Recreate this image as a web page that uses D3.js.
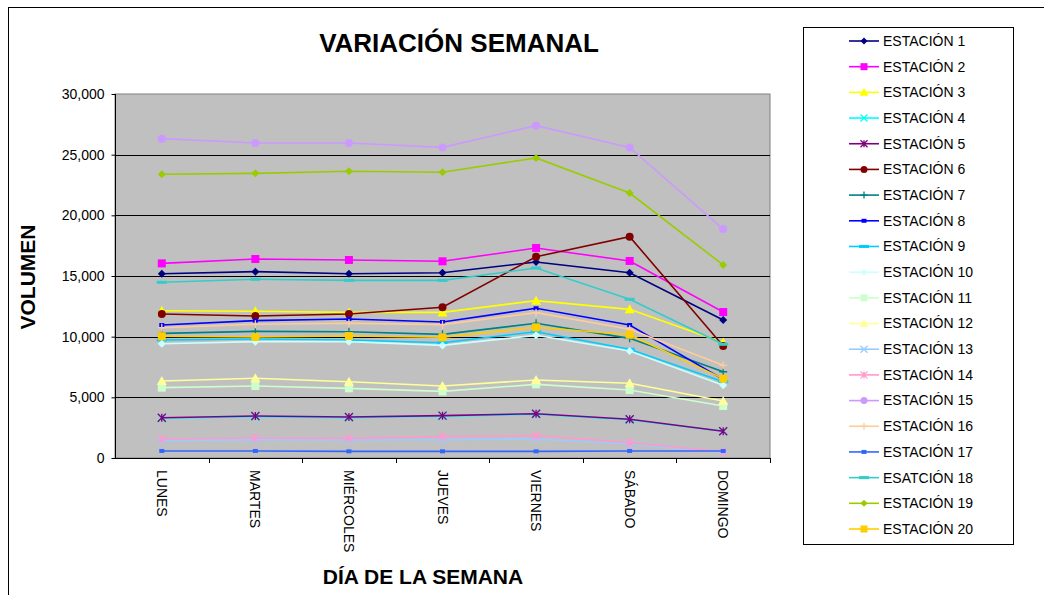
<!doctype html>
<html lang="es">
<head>
<meta charset="utf-8">
<title>Variación semanal</title>
<script src="https://cdn.jsdelivr.net/npm/d3@7"></script>
<style>
  body { margin: 0; background: #fff; }
  svg { display: block; font-family: "Liberation Sans", Arial, sans-serif; }
</style>
</head>
<body>
<script>
// days of the week (x categories)
const days = ["LUNES", "MARTES", "MIÉRCOLES", "JUEVES", "VIERNES", "SÁBADO", "DOMINGO"];

const seriesNames = ["ESTACIÓN 1", "ESTACIÓN 2", "ESTACIÓN 3", "ESTACIÓN 4", "ESTACIÓN 5",
  "ESTACIÓN 6", "ESTACIÓN 7", "ESTACIÓN 8", "ESTACIÓN 9", "ESTACIÓN 10",
  "ESTACIÓN 11", "ESTACIÓN 12", "ESTACIÓN 13", "ESTACIÓN 14", "ESTACIÓN 15",
  "ESTACIÓN 16", "ESTACIÓN 17", "ESATCIÓN 18", "ESTACIÓN 19", "ESTACIÓN 20"];

const est1  = [15190, 15360, 15190, 15270, 16150, 15270, 11370];
const est2  = [16040, 16400, 16320, 16210, 17310, 16240, 12030];
const est3  = [12140, 12090, 12000, 12000, 12970, 12250, 9510];
const est4  = [3270, 3400, 3330, 3440, 3600, 3150, 2200];
const est5  = [3320, 3460, 3380, 3490, 3650, 3190, 2200];
const est6  = [11870, 11700, 11870, 12420, 16590, 18240, 9230];
const est7  = [10270, 10440, 10410, 10190, 11100, 9860, 7110];
const est8  = [10960, 11320, 11460, 11210, 12340, 10960, 6480];
const est9  = [9730, 9810, 9730, 9500, 10410, 8960, 6290];
const est10 = [9420, 9590, 9590, 9280, 10110, 8820, 5990];
const est11 = [5800, 5930, 5740, 5490, 6070, 5600, 4290];
const est12 = [6350, 6570, 6290, 5930, 6430, 6160, 4700];
const est13 = [1430, 1500, 1480, 1510, 1570, 1150, 450];
const est14 = [1570, 1650, 1620, 1760, 1840, 1260, 520];
const est15 = [26320, 25960, 25960, 25600, 27390, 25600, 18870];
const est16 = [10740, 11020, 11100, 10990, 11980, 10610, 7640];
const est17 = [580, 580, 550, 550, 550, 580, 580];
const est18 = [14480, 14730, 14640, 14640, 15660, 13080, 9370];
const est19 = [23380, 23460, 23630, 23550, 24730, 21840, 15910];
const est20 = [10030, 9970, 10050, 9950, 10770, 10160, 6540];

const allValues = [est1, est2, est3, est4, est5, est6, est7, est8, est9, est10,
  est11, est12, est13, est14, est15, est16, est17, est18, est19, est20];

const colors = ["#000080", "#FF00FF", "#FFFF00", "#00FFFF", "#800080",
  "#800000", "#008080", "#0000FF", "#00CCFF", "#CCFFFF",
  "#CCFFCC", "#FFFF99", "#99CCFF", "#FF99CC", "#CC99FF",
  "#FFCC99", "#3366FF", "#33CCCC", "#99CC00", "#FFCC00"];

const markers = ["diamond", "square", "triangle", "x", "star", "circle", "plus", "shortdash", "dash", "diamond",
  "square", "triangle", "x", "star", "circle", "plus", "shortdash", "dash", "diamond", "square"];

const yTicks = [0, 5000, 10000, 15000, 20000, 25000, 30000];

const W = 1044, H = 595;
const plot = {left: 115, right: 770, top: 94, bottom: 458};

const svg = d3.select("body").append("svg")
  .attr("width", W).attr("height", H);

// outer chart border
svg.append("rect")
  .attr("x", 8.5).attr("y", 7.5)
  .attr("width", W).attr("height", H)
  .attr("fill", "#fff").attr("stroke", "#000").attr("stroke-width", 1);

const x = d3.scaleBand().domain(days).range([plot.left, plot.right]);
const y = d3.scaleLinear().domain([0, 30000]).range([plot.bottom, plot.top]);

// plot background
svg.append("rect")
  .attr("x", plot.left).attr("y", plot.top)
  .attr("width", plot.right - plot.left).attr("height", plot.bottom - plot.top)
  .attr("fill", "#C0C0C0").attr("stroke", "#808080").attr("stroke-width", 1);

// gridlines
svg.append("g").selectAll("line")
  .data(yTicks.filter(d => d > 0 && d < 30000))
  .join("line")
  .attr("x1", plot.left).attr("x2", plot.right)
  .attr("y1", d => Math.round(y(d)) + 0.5).attr("y2", d => Math.round(y(d)) + 0.5)
  .attr("stroke", "#000").attr("stroke-width", 1);

// y axis
const yAxis = svg.append("g")
  .attr("transform", `translate(${plot.left + 0.5},0)`)
  .call(d3.axisLeft(y).tickValues(yTicks).tickSize(4).tickFormat(d3.format(",")));
yAxis.select(".domain").attr("stroke", "#000").attr("d", `M0,${plot.top}V${plot.bottom}`);
yAxis.selectAll(".tick line").attr("stroke", "#000");
yAxis.selectAll(".tick text")
  .attr("x", -11)
  .style("font-family", "Liberation Sans, Arial, sans-serif")
  .style("font-size", "14px").attr("fill", "#000");

// x axis: ticks between categories
const xg = svg.append("g");
xg.append("line")
  .attr("x1", plot.left).attr("x2", plot.right)
  .attr("y1", plot.bottom + 0.5).attr("y2", plot.bottom + 0.5)
  .attr("stroke", "#000");
xg.selectAll("line.tk")
  .data(days)
  .join("line").attr("class", "tk")
  .attr("x1", d => Math.round(x(d) + x.bandwidth()) + 0.5)
  .attr("x2", d => Math.round(x(d) + x.bandwidth()) + 0.5)
  .attr("y1", plot.bottom).attr("y2", plot.bottom + 5)
  .attr("stroke", "#000");
xg.selectAll("text")
  .data(days)
  .join("text")
  .attr("transform", d => `translate(${x(d) + x.bandwidth() / 2},470) rotate(90)`)
  .attr("dy", "0.35em")
  .style("font-size", "14px")
  .text(d => d);

// marker shapes
function drawMarker(g, type, color, s) {
  if (type === "diamond") {
    g.append("path").attr("d", `M0,${-s}L${s},0L0,${s}L${-s},0Z`).attr("fill", color);
  } else if (type === "square") {
    g.append("rect").attr("x", -s).attr("y", -s).attr("width", 2 * s).attr("height", 2 * s).attr("fill", color);
  } else if (type === "triangle") {
    g.append("path").attr("d", `M0,${-s - 1}L${s + 1},${s}L${-s - 1},${s}Z`).attr("fill", color);
  } else if (type === "circle") {
    g.append("circle").attr("r", s).attr("fill", color);
  } else if (type === "x") {
    g.append("path").attr("d", `M${-s},${-s}L${s},${s}M${-s},${s}L${s},${-s}`)
      .attr("stroke", color).attr("stroke-width", 1.3).attr("fill", "none");
  } else if (type === "star") {
    g.append("path").attr("d", `M${-s},${-s}L${s},${s}M${-s},${s}L${s},${-s}M0,${-s}V${s}`)
      .attr("stroke", color).attr("stroke-width", 1.3).attr("fill", "none");
  } else if (type === "plus") {
    g.append("path").attr("d", `M${-s},0H${s}M0,${-s}V${s}`)
      .attr("stroke", color).attr("stroke-width", 1.3).attr("fill", "none");
  } else if (type === "shortdash") {
    g.append("rect").attr("x", -2.5).attr("y", -2).attr("width", 5).attr("height", 4).attr("fill", color);
  } else if (type === "dash") {
    g.append("rect").attr("x", -5).attr("y", -1.5).attr("width", 10).attr("height", 3).attr("fill", color);
  }
}

const line = d3.line()
  .x((d, i) => x(days[i]) + x.bandwidth() / 2)
  .y(d => y(d));

const series = svg.append("g");
allValues.forEach((vals, k) => {
  const g = series.append("g");
  g.append("path")
    .attr("d", line(vals))
    .attr("fill", "none")
    .attr("stroke", colors[k])
    .attr("stroke-width", 1.6);
  vals.forEach((v, i) => {
    const m = g.append("g")
      .attr("transform", `translate(${x(days[i]) + x.bandwidth() / 2},${y(v)})`);
    drawMarker(m, markers[k], colors[k], 4);
  });
});

// title and axis titles
svg.append("text")
  .attr("x", 459).attr("y", 52)
  .attr("text-anchor", "middle")
  .style("font-size", "26px").style("font-weight", "bold")
  .text("VARIACIÓN SEMANAL");

svg.append("text")
  .attr("x", 423).attr("y", 584)
  .attr("text-anchor", "middle")
  .style("font-size", "21px").style("font-weight", "bold")
  .text("DÍA DE LA SEMANA");

svg.append("text")
  .attr("transform", "translate(35,277) rotate(-90)")
  .attr("text-anchor", "middle")
  .style("font-size", "21px").style("font-weight", "bold")
  .text("VOLUMEN");

// legend
const legend = svg.append("g");
legend.append("rect")
  .attr("x", 803.5).attr("y", 27.5)
  .attr("width", 210).attr("height", 517)
  .attr("fill", "#fff").attr("stroke", "#000");

const ly = d3.scaleLinear().domain([0, 19]).range([41, 529]);
seriesNames.forEach((name, k) => {
  const g = legend.append("g").attr("transform", `translate(0,${ly(k)})`);
  g.append("line")
    .attr("x1", 849).attr("x2", 879).attr("y1", 0).attr("y2", 0)
    .attr("stroke", colors[k]).attr("stroke-width", 1.6);
  const m = g.append("g").attr("transform", "translate(864,0)");
  drawMarker(m, markers[k], colors[k], 3.5);
  g.append("text")
    .attr("x", 883).attr("y", 0)
    .attr("dy", "0.35em")
    .style("font-size", "14px")
    .text(name);
});
</script>
</body>
</html>
